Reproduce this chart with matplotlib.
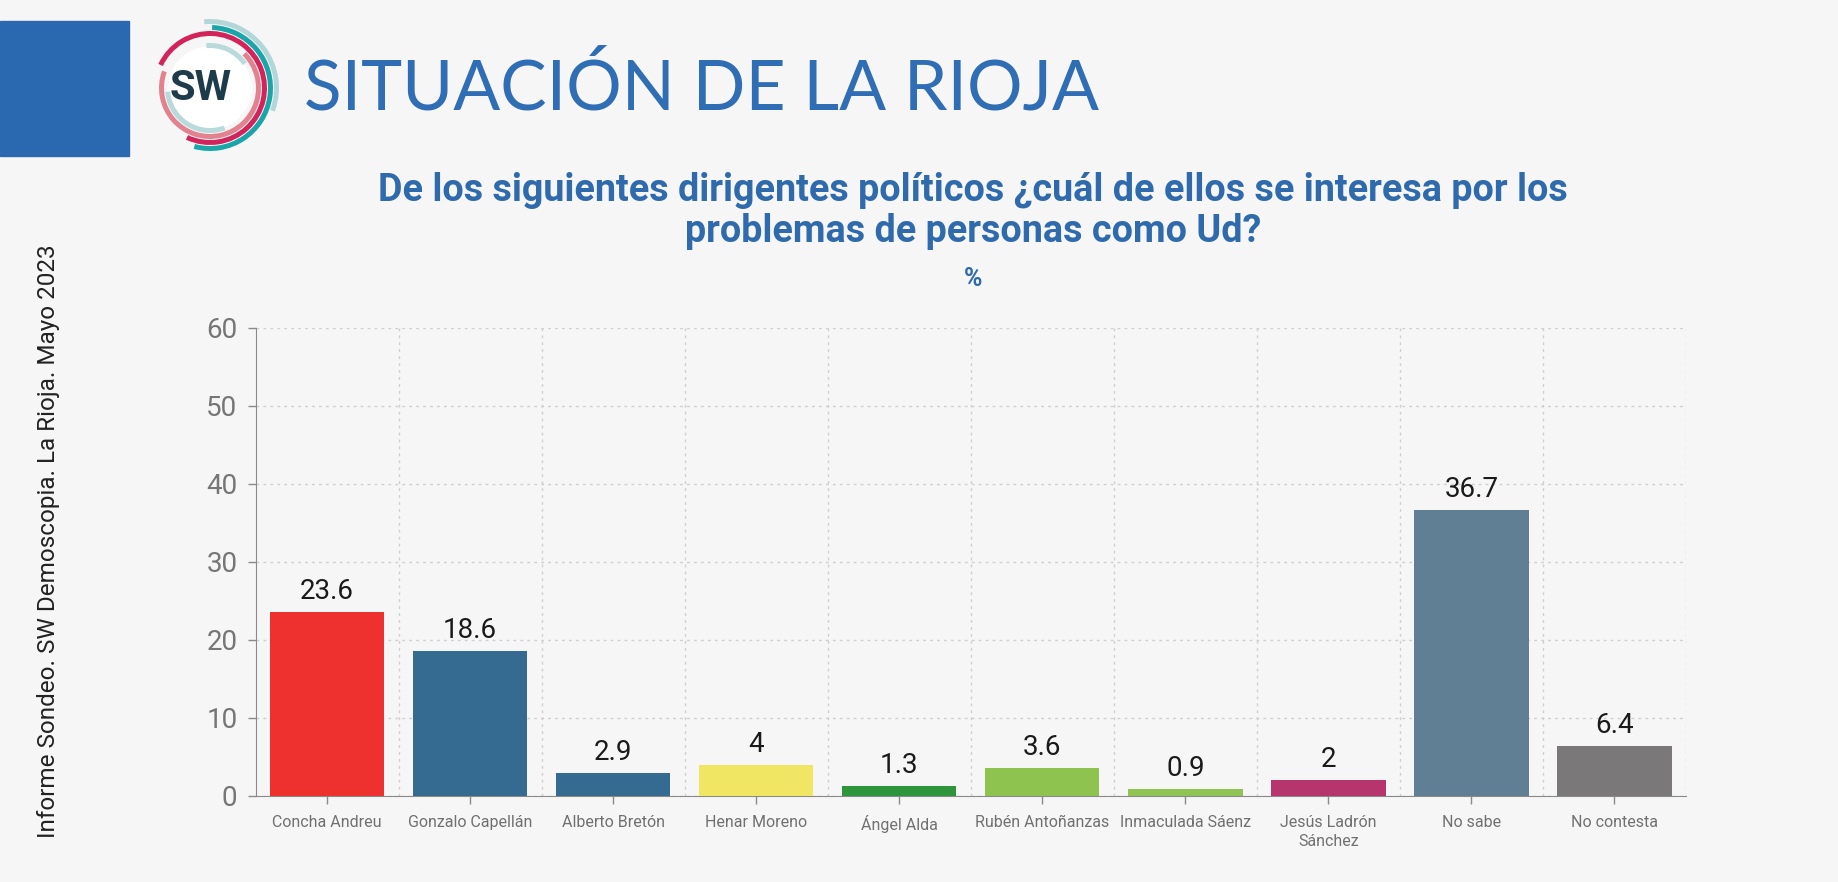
import matplotlib
matplotlib.use("Agg")
import matplotlib.pyplot as plt
from matplotlib.patches import Rectangle, Wedge, Circle

# ---- data ----
categories = ["Concha Andreu", "Gonzalo Capellán", "Alberto Bretón", "Henar Moreno",
              "Ángel Alda", "Rubén Antoñanzas", "Inmaculada Sáenz",
              "Jesús Ladrón\nSánchez", "No sabe", "No contesta"]
values = [23.6, 18.6, 2.9, 4, 1.3, 3.6, 0.9, 2, 36.7, 6.4]
value_labels = ["23.6", "18.6", "2.9", "4", "1.3", "3.6", "0.9", "2", "36.7", "6.4"]
bar_colors = ["#ee312e", "#366b91", "#366b91", "#f1e663", "#2e953d",
              "#8dc34e", "#8fc353", "#b7356d", "#607f95", "#7a7879"]
y_ticks = [0, 10, 20, 30, 40, 50, 60]

title = "SITUACIÓN DE LA RIOJA"
question = "De los siguientes dirigentes políticos ¿cuál de ellos se interesa por los\nproblemas de personas como Ud?"
unit = "%"
side_note = "Informe Sondeo. SW Demoscopia. La Rioja. Mayo 2023"

W, H = 1838, 882
BG = "#f6f6f7"
fig = plt.figure(figsize=(W / 100, H / 100), dpi=100, facecolor=BG)

def fx(px):
    return px / W

def fy(py):
    return 1 - py / H

# blue block at left
fig.patches.append(Rectangle((0, fy(156)), fx(129), (156 - 21) / H,
                             transform=fig.transFigure, color="#2a68b0", zorder=1))

# logo
lx, ly, half = 210, 88, 75
lax = fig.add_axes([fx(lx - half), fy(ly + half), 2 * half / W, 2 * half / H])
lax.set_xlim(-half, half)
lax.set_ylim(-half, half)
lax.axis("off")
lax.add_patch(Circle((0, 0), 41, color="white"))
arcs = [
    (69, -20, 95, "#b3d7d8"),
    (63, -105, 88, "#1aa5a8"),
    (57, -115, 155, "#d2245b"),
    (51, 160, 405, "#e3828f"),
    (45, 185, 290, "#b9dadb"),
    (45, 35, 95, "#b9dadb"),
]
for r, t1, t2, c in arcs:
    lax.add_patch(Wedge((0, 0), r, t1, t2, width=5, color=c, lw=0))
lax.text(-9, -1, "SW", ha="center", va="center", fontsize=30, fontweight="bold",
         family="Roboto", color="#1d3b4a")

# title
fig.text(fx(304), fy(89), title, ha="left", va="center", fontsize=50,
         family="Lato", fontweight="normal", color="#2f6db5")

# question
fig.text(fx(973), fy(211), question, ha="center", va="center", fontsize=27.2,
         family="Roboto", fontweight="bold", color="#2f6aad", linespacing=1.16)
fig.text(fx(973), fy(279), unit, ha="center", va="center", fontsize=18,
         family="Roboto", fontweight="bold", color="#2f6aad")

# side note
fig.text(fx(49), fy(541), side_note, ha="center", va="center", rotation=90,
         fontsize=17.5, family="Roboto", color="#222222")

# main chart
x0, x1, ytop, ybot = 255.5, 1686, 328, 796
ax = fig.add_axes([fx(x0), fy(ybot), (x1 - x0) / W, (ybot - ytop) / H])
ax.set_facecolor("none")
xs = list(range(len(categories)))
bars = ax.bar(xs, values, width=0.8, color=bar_colors, zorder=3)
for b, lab in zip(bars, value_labels):
    ax.annotate(lab, (b.get_x() + b.get_width() / 2, b.get_height()),
                xytext=(0, 5), textcoords="offset points", ha="center", va="bottom",
                fontsize=20, family="Roboto", color="#1a1a1a", zorder=4)

ax.set_xlim(-0.5, len(categories) - 0.5)
ax.set_ylim(0, 60)
ax.set_yticks(y_ticks)
ax.set_xticks(xs)
ax.set_xticklabels(categories, family="Roboto", fontsize=11.5, color="#707070",
                   linespacing=1.3)
for t in ax.get_yticklabels():
    t.set_family("Roboto")
ax.tick_params(axis="y", labelsize=20, labelcolor="#767676", color="#8a8a8a",
               length=6, width=1, pad=7)
ax.tick_params(axis="x", color="#8a8a8a", length=6, width=1, pad=8)

ax.set_xticks([i + 0.5 for i in range(len(categories))], minor=True)
ax.tick_params(axis="x", which="minor", length=0)
ax.grid(True, axis="y", which="major", linestyle=(0, (2, 3)), color="#cfcfcf", lw=1, zorder=0)
ax.grid(True, axis="x", which="minor", linestyle=(0, (2, 3)), color="#cfcfcf", lw=1, zorder=0)
ax.grid(False, axis="x", which="major")

for s in ["top", "right"]:
    ax.spines[s].set_visible(False)
ax.spines["left"].set_color("#8a8a8a")
ax.spines["bottom"].set_color("#8a8a8a")

fig.savefig("out.png", dpi=100, facecolor=BG)
